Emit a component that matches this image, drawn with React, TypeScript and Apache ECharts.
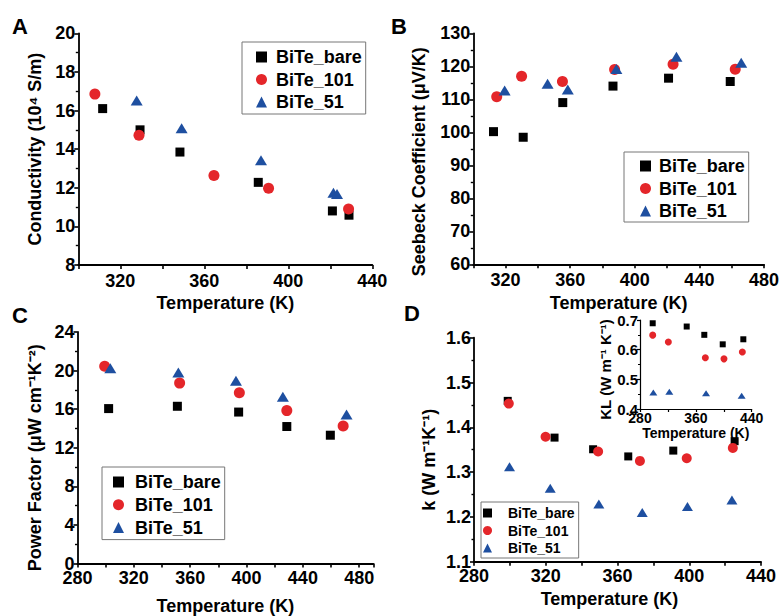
import React, { useEffect, useRef } from 'react';
import * as echarts from 'echarts';

// ---------- data ----------
const seriesNames = ['BiTe_bare', 'BiTe_101', 'BiTe_51'];

// Panel A: Conductivity (10^4 S/m) vs Temperature (K)
const condBare = [[311.6, 16.1], [329.4, 15.0], [348.4, 13.85], [385.7, 12.28], [421.0, 10.8], [428.9, 10.58]];
const cond101 = [[307.9, 16.85], [328.9, 14.72], [364.6, 12.64], [390.6, 11.98], [428.7, 10.9]];
const cond51 = [[327.8, 16.52], [349.2, 15.08], [387.0, 13.42], [421.5, 11.74], [423.2, 11.68]];

// Panel B: Seebeck coefficient (uV/K)
const seebBare = [[312.5, 100.2], [330.9, 98.5], [355.4, 109.0], [386.5, 114.0], [420.9, 116.4], [459.1, 115.4]];
const seeb101 = [[314.5, 110.8], [329.9, 117.0], [355.2, 115.4], [387.5, 119.0], [423.7, 120.6], [462.2, 119.1]];
const seeb51 = [[319.4, 112.7], [346.0, 114.7], [358.5, 113.0], [388.6, 119.2], [425.8, 122.9], [465.9, 121.1]];

// Panel C: Power factor (uW cm^-1 K^-2)
const pfBare = [[302.1, 16.06], [350.9, 16.3], [394.4, 15.7], [428.6, 14.2], [459.5, 13.3]];
const pf101 = [[299.3, 20.44], [352.5, 18.7], [394.9, 17.7], [428.6, 15.85], [468.6, 14.25]];
const pf51 = [[303.3, 20.25], [351.6, 19.8], [392.5, 18.95], [425.8, 17.3], [471.0, 15.45]];

// Panel D: thermal conductivity k (W m^-1 K^-1)
const kBare = [[298.8, 1.459], [324.9, 1.377], [346.4, 1.351], [366.0, 1.335], [391.1, 1.348], [425.3, 1.369]];
const k101 = [[299.4, 1.453], [319.9, 1.379], [349.2, 1.346], [372.5, 1.325], [398.6, 1.331], [424.3, 1.354]];
const k51 = [[299.8, 1.312], [322.5, 1.264], [349.6, 1.229], [373.8, 1.21], [399.0, 1.223], [423.8, 1.238]];

// Inset: lattice thermal conductivity KL
const klBare = [[298.2, 0.689], [346.9, 0.678], [372.1, 0.65], [398.5, 0.618], [428.0, 0.635]];
const kl101 = [[298.2, 0.649], [320.6, 0.626], [373.6, 0.573], [400.3, 0.569], [426.6, 0.592]];
const kl51 = [[299.1, 0.456], [322.0, 0.458], [374.6, 0.453], [425.6, 0.445]];

// ---------- styling ----------
const FONT = '"Liberation Sans", Arial, sans-serif';
const BLACK = '#000000';
const RED = '#e4262a';
const BLUE = '#1e4fa0';
const colors = [BLACK, RED, BLUE];
const symbols = ['rect', 'circle', 'triangle'];

function xAx(gridIndex: number, min: number, max: number, interval: number, nameGap: number, margin: number, fmt: (v: number) => string, opts: any = {}) {
  const fs = opts.fontSize || 18;
  const lh = Math.round(fs * 0.75);
  return {
    type: 'value', gridIndex, min, max, interval,
    name: 'Temperature (K)', nameLocation: 'middle', nameGap,
    nameTextStyle: { fontFamily: FONT, fontWeight: 'bold', fontSize: fs, color: BLACK, padding: opts.namePadding || 0 },
    axisLine: { show: true, onZero: false, lineStyle: { color: BLACK, width: opts.lineWidth || 1.8 } },
    axisTick: { show: true, inside: false, length: opts.tickLen || 4, lineStyle: { color: BLACK, width: opts.lineWidth || 1.6 } },
    axisLabel: { show: true, margin: margin + (fs - lh) / 2, lineHeight: lh, fontFamily: FONT, fontWeight: 'bold', fontSize: fs, color: BLACK, formatter: fmt },
    splitLine: { show: false },
  };
}

function yAx(gridIndex: number, min: number, max: number, interval: number, name: string, nameGap: number, fmt: (v: number) => string, opts: any = {}) {
  const fs = opts.fontSize || 18;
  return {
    type: 'value', gridIndex, min, max, interval,
    name, nameLocation: 'middle', nameGap,
    nameTextStyle: { fontFamily: FONT, fontWeight: 'bold', fontSize: opts.nameSize || fs, color: BLACK, padding: opts.namePadding || 0 },
    axisLine: { show: true, onZero: false, lineStyle: { color: BLACK, width: opts.lineWidth || 1.8 } },
    axisTick: { show: true, inside: false, length: opts.tickLen || 4, lineStyle: { color: BLACK, width: opts.lineWidth || 1.6 } },
    minorTick: { show: true, splitNumber: 2, length: opts.minorLen || 2.5, lineStyle: { color: BLACK, width: opts.lineWidth || 1.4 } },
    axisLabel: { show: true, margin: opts.margin || 3, lineHeight: Math.round(fs * 0.72), fontFamily: FONT, fontWeight: 'bold', fontSize: fs, color: BLACK, formatter: fmt },
    splitLine: { show: false },
    minorSplitLine: { show: false },
  };
}

function scatterSet(idx: number, datasets: number[][][], sizes: any[]) {
  return datasets.map((d, i) => ({
    type: 'scatter', name: seriesNames[i], xAxisIndex: idx, yAxisIndex: idx,
    data: d, symbol: symbols[i], symbolSize: sizes[i],
    itemStyle: { color: colors[i], opacity: 1 },
    z: 3 + i,
  }));
}

function legend(left: number, top: number, padding: number[], itemGap: number, fontSize: number, iconSize: number, textPadLeft: number) {
  return {
    show: true, orient: 'vertical', left, top, padding, itemGap,
    itemWidth: iconSize, itemHeight: iconSize,
    borderColor: '#777777', borderWidth: 1, backgroundColor: '#ffffff',
    selectedMode: false,
    data: seriesNames.map((n, i) => ({ name: n, icon: symbols[i] })),
    textStyle: { fontFamily: FONT, fontWeight: 'bold', fontSize, color: BLACK, padding: [0, 0, 0, textPadLeft] },
  };
}

const every40 = (v: number) => (v % 40 === 0 ? String(v) : '');

function buildOption() {
  return {
    animation: false,
    backgroundColor: '#ffffff',
    textStyle: { fontFamily: FONT, fontWeight: 'bold', color: BLACK },
    grid: [
      { left: 78.3, top: 33.3, width: 294, height: 231.7 },
      { left: 473.3, top: 33.3, width: 293.4, height: 231 },
      { left: 77.5, top: 332, width: 295.8, height: 231.5 },
      { left: 474, top: 337.7, width: 287, height: 224 },
      { left: 640, top: 320, width: 111.7, height: 89 },
    ],
    xAxis: [
      xAx(0, 300, 440, 20, 29, 7, every40),
      xAx(1, 300, 480, 20, 30, 7, every40),
      xAx(2, 280, 490, 20, 33, 5, (v: number) => (v % 40 === 0 && v <= 480 ? String(v) : '')),
      xAx(3, 280, 440, 20, 28, 5, every40, { namePadding: [0, 16, 0, 0] }),
      xAx(4, 280, 440, 40, 13, 2, (v: number) => ((v - 280) % 80 === 0 ? String(v) : ''), { fontSize: 14, lineWidth: 1.2, tickLen: 3 }),
    ],
    yAxis: [
      yAx(0, 8, 20, 2, 'Conductivity (10\u2074 S/m)', 34, (v: number) => String(v)),
      yAx(1, 60, 130, 10, 'Seebeck Coefficient (\u03bcV/K)', 45, (v: number) => String(v), { namePadding: [0, 26, 0, 0] }),
      yAx(2, 0, 24, 4, 'Power Factor (\u03bcW cm\u207b\u00b9K\u207b\u00b2)', 34, (v: number) => String(v), { namePadding: [0, 20, 0, 0] }),
      yAx(3, 1.1, 1.6, 0.1, 'k (W m\u207b\u00b9K\u207b\u00b9)', 36, (v: number) => v.toFixed(1), { namePadding: [0, 20, 0, 0] }),
      yAx(4, 0.4, 0.7, 0.1, 'KL (W m\u207b\u00b9 K\u207b\u00b9)', 23, (v: number) => v.toFixed(1), { fontSize: 15, nameSize: 15, lineWidth: 1.2, tickLen: 3, minorLen: 2, margin: 2, namePadding: [0, 10, 0, 0] }),
    ],
    legend: [
      legend(242, 42, [6, 4, 3, 14], 4.5, 18, 11, 4),
      legend(624, 152, [5, 4, 2, 16], 4.5, 18, 11, 3),
      legend(102, 467, [6, 4, 3, 11], 4.8, 18, 11, 6),
      legend(481, 502, [4, 4, 3, 2], 3.5, 14, 9, 11),
    ],
    series: [
      ...scatterSet(0, [condBare, cond101, cond51], [9, 11, [12, 10]]),
      ...scatterSet(1, [seebBare, seeb101, seeb51], [9, 11, [12, 10]]),
      ...scatterSet(2, [pfBare, pf101, pf51], [9, 11, [12, 10]]),
      ...scatterSet(3, [kBare, k101, k51], [8, 10, [11, 9]]),
      ...scatterSet(4, [klBare, kl101, kl51], [6, 7, [8, 6]]),
    ],
    graphic: [
      { type: 'text', left: 12, top: 15, style: { text: 'A', font: 'bold 22px "Liberation Sans"', fill: BLACK } },
      { type: 'text', left: 391, top: 15, style: { text: 'B', font: 'bold 22px "Liberation Sans"', fill: BLACK } },
      { type: 'text', left: 12, top: 304, style: { text: 'C', font: 'bold 22px "Liberation Sans"', fill: BLACK } },
      { type: 'text', left: 404, top: 302, style: { text: 'D', font: 'bold 22px "Liberation Sans"', fill: BLACK } },
    ],
  };
}

export default function App() {
  const ref = useRef<HTMLDivElement>(null);
  useEffect(() => {
    if (!ref.current) return;
    const chart = echarts.init(ref.current, null, { renderer: 'svg' });
    chart.setOption(buildOption() as any);
    return () => chart.dispose();
  }, []);
  return (
    <div
      ref={ref}
      style={{ position: 'fixed', left: 0, top: 0, width: 782, height: 616, background: '#ffffff' }}
    />
  );
}
